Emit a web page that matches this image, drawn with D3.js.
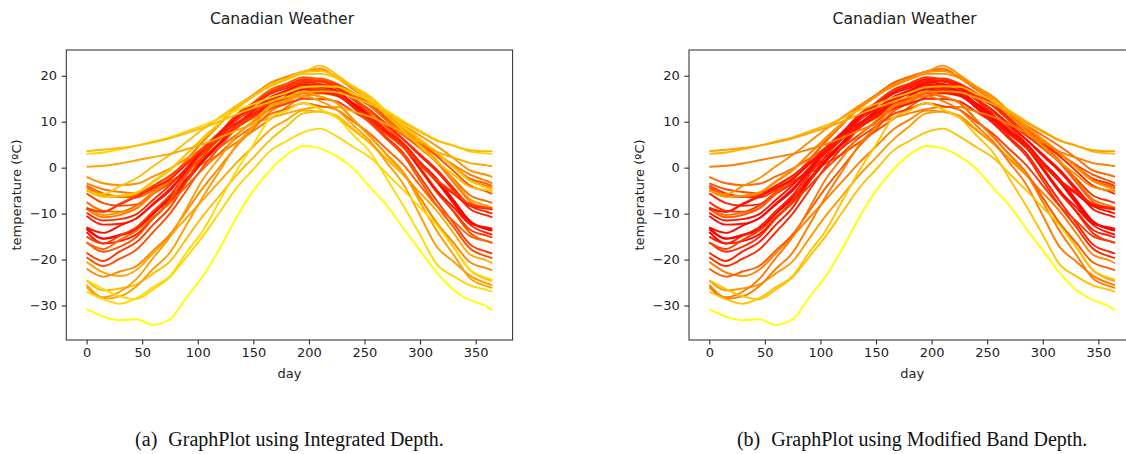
<!DOCTYPE html>
<html><head><meta charset="utf-8">
<script src="https://cdn.jsdelivr.net/npm/d3@7"></script>
<style>body{margin:0;background:#fff}svg{display:block}</style>
</head><body><svg id="c" width="1126" height="454"></svg>
<script>
// ---- data (daily mean temperature, sampled every ~15 days) ----
const days = [0,15,30,45,60,75,90,105,120,135,150,165,180,195,210,225,240,255,270,285,300,315,330,345,360,365];
const stations = ["St. Johns","Halifax","Sydney","Yarmouth","Charlottvl","Fredericton","Scheffervll","Arvida","Bagottville","Quebec","Sherbrooke","Montreal","Ottawa","Toronto","London","Thunder Bay","Winnipeg","The Pas","Churchill","Regina","Pr. Albert","Uranium Cty","Edmonton","Calgary","Kamloops","Vancouver","Victoria","Pr. George","Pr. Rupert","Whitehorse","Dawson","Yellowknife","Iqaluit","Inuvik","Resolute"];
const stJohns     = [-3.4,-4.7,-5.3,-5.6,-4.5,-3.0,-1.2,1.0,3.0,5.5,8.0,10.5,13.2,15.4,16.2,15.6,14.0,12.0,9.6,7.0,4.9,3.0,0.6,-1.5,-2.9,-3.4];
const halifax     = [-4.4,-6.0,-6.4,-5.9,-4.0,-1.9,0.8,3.5,6.3,9.0,11.6,14.2,16.3,18.2,18.8,18.2,16.3,14.0,11.2,8.4,5.8,3.2,0.2,-2.8,-4.0,-4.5];
const sydney      = [-3.9,-5.6,-6.3,-6.5,-4.9,-3.0,-0.7,1.7,4.4,7.2,10.0,12.7,15.2,17.5,18.0,17.5,15.5,13.4,10.6,7.8,5.3,3.0,0.3,-2.4,-3.5,-4.0];
const yarmouth    = [-2.0,-3.4,-3.8,-3.5,-1.9,-0.2,2.0,4.3,6.5,8.8,10.8,12.8,14.6,16.3,16.8,16.6,15.3,13.8,11.5,9.2,7.0,4.7,2.1,-0.6,-1.6,-2.0];
const charlottvl  = [-5.6,-7.7,-8.3,-8.0,-5.7,-3.4,-0.5,2.3,5.5,8.8,11.7,14.5,16.6,18.6,19.0,18.2,16.0,13.8,10.9,8.0,5.2,2.5,-0.7,-3.9,-5.2,-5.7];
const fredericton = [-7.5,-9.4,-9.6,-8.2,-5.3,-2.4,1.0,4.5,7.8,11.2,13.8,16.4,18.0,19.3,19.4,18.3,16.0,13.4,10.2,7.1,4.2,1.2,-2.4,-6.0,-7.3,-7.7];
const scheffervll = [-20.5,-22.8,-23.6,-22.2,-18.6,-14.9,-10.9,-6.9,-2.9,1.1,4.6,8.2,10.4,12.4,12.2,11.0,8.2,5.3,1.8,-1.6,-5.5,-9.4,-14.2,-18.9,-20.2,-20.8];
const arvida      = [-13.0,-15.5,-14.8,-13.4,-10.0,-6.7,-2.7,1.4,5.5,9.5,12.4,15.3,16.8,18.1,17.8,16.7,14.0,11.4,8.1,4.8,1.2,-2.4,-7.0,-11.6,-13.3,-13.6];
const bagottville = [-14.0,-16.5,-16.0,-14.5,-11.0,-7.5,-3.0,1.4,5.3,9.2,12.1,15.0,16.5,17.8,17.4,16.3,13.6,10.9,7.6,4.4,0.6,-3.1,-7.8,-12.4,-14.2,-14.6];
const quebec      = [-10.5,-12.4,-12.2,-11.0,-7.8,-4.6,-0.6,3.3,7.0,10.8,13.6,16.3,17.8,19.1,18.8,17.6,15.0,12.5,9.3,6.1,2.6,-0.8,-4.9,-9.0,-10.4,-10.8];
const sherbrooke  = [-9.8,-11.5,-11.2,-10.1,-7.0,-3.8,0.0,3.9,7.4,11.0,13.5,16.0,17.3,18.6,18.2,17.2,14.8,12.5,9.3,6.2,2.9,-0.4,-4.4,-8.3,-9.6,-10.0];
const montreal    = [-8.6,-10.3,-9.8,-8.8,-5.6,-2.4,1.7,5.7,9.5,13.4,15.8,18.2,19.6,20.9,21.6,19.6,17.2,14.8,11.5,8.3,5.0,1.6,-2.7,-6.9,-8.3,-8.7];
const ottawa      = [-9.0,-10.8,-10.3,-8.9,-5.7,-2.5,1.7,5.9,9.5,13.2,15.8,18.4,19.8,20.9,21.2,19.6,17.0,14.6,11.3,7.9,4.5,1.1,-3.2,-7.4,-8.8,-9.2];
const toronto     = [-4.8,-6.3,-6.1,-5.4,-2.9,-0.4,3.0,6.3,9.6,12.9,15.5,18.0,19.4,20.8,21.0,19.9,17.7,15.5,12.2,8.9,6.0,3.2,0.1,-2.9,-4.3,-4.7];
const london      = [-4.9,-6.3,-6.2,-5.6,-3.1,-0.6,3.0,6.6,9.8,13.0,15.5,18.0,19.2,20.4,20.4,19.5,17.4,15.4,12.2,9.1,6.2,3.3,0.2,-2.8,-4.3,-4.8];
const thunderBay  = [-13.4,-15.4,-14.6,-13.4,-10.0,-6.5,-2.4,1.7,5.2,8.6,11.1,13.6,15.6,17.6,17.4,16.6,13.9,11.2,8.0,4.9,1.0,-3.0,-7.4,-11.8,-13.4,-13.7];
const winnipeg    = [-16.2,-18.3,-17.2,-15.1,-11.0,-7.0,-1.6,3.8,7.7,11.6,14.2,16.9,18.3,19.7,19.2,18.2,15.2,12.3,8.8,5.2,0.1,-4.9,-9.6,-14.2,-16.0,-16.3];
const thePas      = [-19.5,-21.4,-19.8,-17.8,-14.0,-10.0,-4.9,0.3,4.5,8.6,11.8,14.9,16.3,17.7,17.2,16.3,13.0,9.7,6.2,2.6,-2.8,-8.2,-12.9,-17.6,-19.3,-19.7];
const churchill   = [-24.5,-26.7,-26.3,-25.4,-23.0,-20.4,-15.4,-10.4,-6.0,-1.6,2.2,6.0,9.0,11.8,12.2,11.3,8.4,5.4,2.0,-1.4,-6.7,-12.0,-17.2,-22.3,-24.3,-24.6];
const regina      = [-15.0,-16.5,-14.8,-12.9,-9.4,-6.0,-1.0,4.0,7.7,11.4,13.9,16.4,17.7,19.0,18.8,18.0,14.8,11.6,8.1,4.6,-0.4,-5.4,-9.4,-13.5,-14.8,-15.2];
const prAlbert    = [-18.5,-20.3,-18.2,-16.2,-12.4,-8.7,-3.0,2.6,6.4,10.3,12.7,15.1,16.3,17.4,17.0,16.3,13.2,10.1,6.6,3.2,-2.0,-7.2,-12.0,-16.7,-18.3,-18.7];
const uraniumCty  = [-22.0,-23.7,-22.6,-21.4,-18.0,-14.5,-9.4,-4.3,0.2,4.7,8.4,12.1,14.1,16.1,15.4,14.1,10.5,6.8,2.9,-1.0,-6.5,-12.0,-16.3,-20.6,-21.9,-22.3];
const edmonton    = [-13.0,-14.2,-12.6,-11.0,-8.0,-5.0,-0.5,4.0,7.5,10.9,12.9,14.9,16.0,17.0,16.6,15.9,13.2,10.5,7.4,4.4,-0.3,-5.0,-8.6,-12.2,-13.0,-13.3];
const calgary     = [-8.9,-9.6,-8.0,-6.3,-4.4,-2.5,0.8,4.1,6.9,9.7,11.7,13.7,15.0,16.4,16.3,15.7,13.2,10.6,8.0,5.3,1.2,-3.0,-5.7,-8.3,-8.9,-9.1];
const kamloops    = [-5.0,-5.8,-4.0,-2.3,0.3,2.8,5.6,8.4,11.0,13.5,15.6,17.6,19.2,20.7,22.2,20.2,17.4,14.6,11.3,8.0,4.6,1.3,-1.5,-4.2,-4.9,-5.1];
const vancouver   = [3.0,3.3,4.0,4.8,5.7,6.6,7.9,9.2,10.8,12.5,13.8,15.2,16.3,17.5,17.7,17.6,16.1,14.6,12.4,10.1,8.0,6.0,4.8,3.5,3.1,3.0];
const victoria    = [3.6,3.9,4.3,4.8,5.5,6.4,7.5,8.7,10.1,11.6,13.0,14.3,15.4,16.4,16.6,16.4,15.2,13.9,11.9,9.8,7.8,5.9,4.8,3.8,3.6,3.6];
const prGeorge    = [-8.8,-9.6,-7.8,-6.1,-3.9,-1.7,1.2,4.1,6.6,9.1,11.0,12.8,13.9,15.0,14.9,14.4,12.2,9.9,7.2,4.4,0.8,-2.7,-5.3,-7.9,-8.7,-8.9];
const prRupert    = [0.2,0.4,0.9,1.6,2.3,3.0,4.0,5.1,6.6,8.1,9.5,10.8,11.8,12.7,13.2,13.2,12.2,11.1,9.4,7.6,5.6,3.5,2.2,1.0,0.5,0.3];
const whitehorse  = [-16.3,-17.7,-15.7,-13.7,-10.7,-7.7,-4.0,-0.2,3.2,6.5,9.0,11.6,12.8,14.0,13.4,12.6,10.0,7.4,4.0,0.6,-3.9,-8.3,-11.6,-14.9,-16.0,-16.4];
const dawson      = [-25.5,-28.2,-27.0,-24.2,-19.6,-15.1,-8.8,-2.4,2.3,7.0,10.2,13.5,14.6,15.6,14.5,12.6,9.2,5.8,1.1,-3.6,-10.4,-17.2,-20.4,-23.5,-25.2,-25.6];
const yellowknife = [-26.0,-28.5,-28.0,-25.8,-22.0,-18.5,-12.4,-6.2,-0.6,5.0,9.0,13.1,14.8,16.5,15.5,14.1,10.4,6.7,2.8,-1.2,-7.5,-13.7,-18.9,-24.1,-25.8,-26.2];
const iqaluit     = [-24.5,-26.4,-28.0,-28.6,-26.5,-23.8,-19.4,-14.8,-9.6,-4.4,-0.4,3.6,5.8,7.7,8.5,6.8,4.5,2.2,-1.3,-4.9,-8.7,-12.5,-17.3,-22.2,-24.0,-24.4];
const inuvik      = [-27.0,-28.6,-29.6,-28.4,-26.0,-23.6,-18.4,-13.6,-7.1,-0.6,5.0,10.7,12.4,14.1,12.7,10.9,7.1,3.4,-2.4,-8.3,-14.6,-21.0,-23.6,-25.6,-26.6,-27.0];
const resolute    = [-30.8,-32.4,-33.2,-33.0,-34.2,-33.0,-28.2,-23.5,-17.5,-10.8,-5.0,-0.6,2.8,4.7,4.2,2.5,-0.2,-4.3,-8.2,-13.2,-18.0,-22.8,-26.6,-28.8,-30.2,-31.0];
const temps = [stJohns,halifax,sydney,yarmouth,charlottvl,fredericton,scheffervll,arvida,bagottville,quebec,sherbrooke,montreal,ottawa,toronto,london,thunderBay,winnipeg,thePas,churchill,regina,prAlbert,uraniumCty,edmonton,calgary,kamloops,vancouver,victoria,prGeorge,prRupert,whitehorse,dawson,yellowknife,iqaluit,inuvik,resolute];
const xTicks = [0,50,100,150,200,250,300,350];
const yTicks = [-30,-20,-10,0,10,20];
const titleText = "Canadian Weather";
const xLabel = "day";
const yLabel = "temperature (ºC)";
const captions = [["(a)","GraphPlot using Integrated Depth."],["(b)","GraphPlot using Modified Band Depth."]];

// ---- depth measures (computed from the curves) ----
const nCurves = temps.length, nT = days.length;
function rankAt(t, i){ let c=0; for(let j=0;j<nCurves;j++) if(temps[j][t] <= temps[i][t]) c++; return c; }
function integratedDepth(){
  return temps.map((_,i)=>{ let s=0; for(let t=0;t<nT;t++){ const F=rankAt(t,i)/nCurves; s += 1-Math.abs(0.5-F);} return s/nT; });
}
function modifiedBandDepth(){
  const pairs = nCurves*(nCurves-1)/2;
  return temps.map((_,i)=>{ let s=0; for(let t=0;t<nT;t++){ const r=rankAt(t,i); s += ((r-1)*(nCurves-r)+(nCurves-1))/pairs;} return s/nT; });
}
const depthSets = [integratedDepth(), modifiedBandDepth()];

// ---- drawing ----
const svg = d3.select("#c");
const W = 446.3, yTop = 50, yBottom = 340;
const panelLefts = [66.3, 689];
const FONT = "DejaVu Sans, sans-serif";

panelLefts.forEach((left, p)=>{
  const x = d3.scaleLinear().domain([-18.25, 383.25]).range([left, left+W]);
  const y = d3.scaleLinear().domain([-37.5, 25.6]).range([yBottom, yTop]);
  const g = svg.append("g");
  const dep = depthSets[p];
  const dmin = d3.min(dep), dmax = d3.max(dep);
  const col = d => { const v = 1 - (d - dmin)/(dmax - dmin); return d3.rgb(255, Math.round(255*v), 0).toString(); };
  const line = d3.line().x((d,k)=>x(days[k])).y(d=>y(d)).curve(d3.curveMonotoneX);
  const clipId = "clip"+p;
  g.append("clipPath").attr("id", clipId).append("rect").attr("x",left).attr("y",yTop).attr("width",W).attr("height",yBottom-yTop);
  g.append("g").attr("clip-path",`url(#${clipId})`).selectAll("path").data(temps).join("path")
    .attr("d", line).attr("fill","none").attr("stroke",(d,i)=>col(dep[i]))
    .attr("stroke-width",1.9).attr("stroke-linejoin","round");
  g.append("rect").attr("x",left).attr("y",yTop).attr("width",W).attr("height",yBottom-yTop)
    .attr("fill","none").attr("stroke","#333").attr("stroke-width",1.05);
  const ax = g.append("g").attr("transform",`translate(0,${yBottom})`)
    .call(d3.axisBottom(x).tickValues(xTicks).tickSize(4.6).tickPadding(3.5));
  const ay = g.append("g").attr("transform",`translate(${left},0)`)
    .call(d3.axisLeft(y).tickValues(yTicks).tickSize(4.6).tickPadding(4.6));
  [ax, ay].forEach(a=>{
    a.select(".domain").remove();
    a.selectAll(".tick line").attr("stroke","#222").attr("stroke-width",1.05);
    a.selectAll(".tick text").attr("fill","#222").style("font-family",FONT).style("font-size","13px");
  });
  g.append("text").attr("x", left+215.7).attr("y", 24).attr("text-anchor","middle")
    .style("font-family",FONT).style("font-size","15.6px").attr("fill","#222").text(titleText);
  g.append("text").attr("x", left+W/2).attr("y", 378).attr("text-anchor","middle")
    .style("font-family",FONT).style("font-size","13px").attr("fill","#222").text(xLabel);
  g.append("text").attr("transform",`translate(${left-45},${(yTop+yBottom)/2}) rotate(-90)`).attr("text-anchor","middle")
    .style("font-family",FONT).style("font-size","13px").attr("fill","#222").text(yLabel);
  const cap = g.append("text").attr("x", left+W/2).attr("y", 446).attr("text-anchor","middle")
    .style("font-family","Liberation Serif, Times New Roman, serif").style("font-size","20px").attr("fill","#111");
  cap.append("tspan").text(captions[p][0]);
  cap.append("tspan").attr("dx","0.55em").text(captions[p][1]);
});
</script></body></html>
